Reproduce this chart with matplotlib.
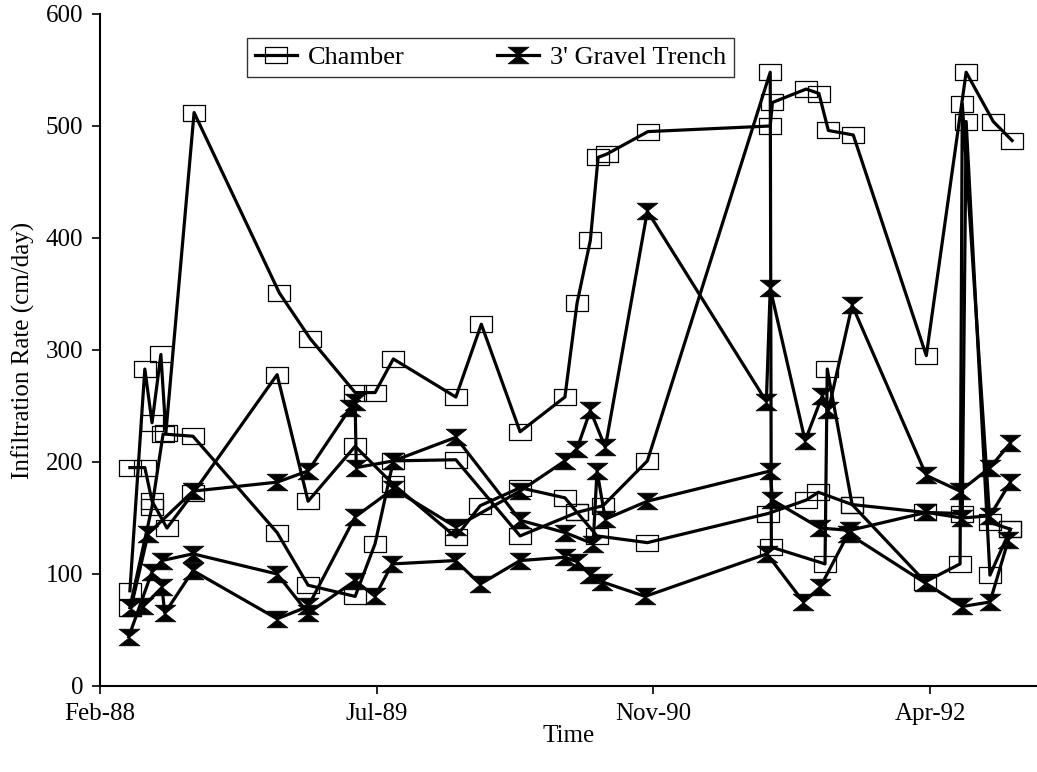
import matplotlib
matplotlib.use("Agg")
import matplotlib.pyplot as plt
from matplotlib.path import Path
import numpy as np

plt.rcParams['font.family'] = ['Liberation Serif', 'DejaVu Serif']

# x values: days since the first axis tick (Feb-88)
chamber_a_x = [54, 81, 94, 110, 119, 170, 324, 380, 461, 497, 530, 643, 689, 759, 840, 862, 886, 900, 916, 990, 1211, 1215, 1276, 1299, 1316, 1361, 1493, 1565, 1614, 1648]
chamber_a_y = [85, 283, 235, 296, 226, 512, 351, 310, 262, 262, 292, 258, 323, 227, 258, 342, 398, 472, 475, 495, 500, 521, 533, 529, 496, 492, 295, 548, 504, 487]

chamber_b_x = [54, 81, 94, 121, 168, 320, 376, 461, 530, 643, 687, 759, 840, 862, 909, 989, 1211, 1213, 1310, 1314, 1359, 1491, 1554, 1558, 1608, 1645]
chamber_b_y = [195, 195, 165, 141, 172, 278, 165, 214, 180, 133, 161, 177, 168, 155, 161, 201, 548, 124, 109, 283, 162, 93, 109, 520, 146, 140]

chamber_c_x = [54, 94, 114, 168, 320, 376, 461, 497, 530, 643, 759, 862, 898, 989, 1207, 1276, 1298, 1359, 1491, 1558, 1565, 1608, 1645]
chamber_c_y = [70, 160, 225, 223, 137, 90, 80, 127, 201, 202, 134, 155, 134, 128, 154, 166, 173, 162, 155, 154, 504, 99, 140]

trench_a_x = [56, 87, 168, 320, 376, 452, 461, 463, 530, 643, 759, 840, 891, 898, 913, 989, 1211, 1215, 1301, 1355, 1493, 1558, 1608, 1645]
trench_a_y = [70, 136, 174, 182, 192, 248, 254, 195, 201, 222, 148, 137, 127, 192, 149, 165, 192, 166, 141, 139, 155, 150, 152, 182]

trench_b_x = [52, 94, 112, 168, 320, 376, 461, 497, 528, 642, 687, 759, 840, 862, 886, 907, 985, 1205, 1271, 1301, 1352, 1491, 1558, 1608, 1641]
trench_b_y = [44, 102, 112, 118, 100, 65, 94, 80, 109, 112, 91, 112, 115, 111, 99, 93, 80, 118, 75, 88, 136, 92, 71, 75, 130]

trench_c_x = [78, 112, 117, 168, 320, 376, 461, 530, 643, 759, 840, 862, 886, 913, 989, 1204, 1211, 1274, 1305, 1316, 1359, 1493, 1554, 1608, 1645]
trench_c_y = [71, 88, 65, 103, 60, 71, 151, 176, 142, 174, 201, 212, 246, 213, 424, 254, 355, 219, 259, 246, 340, 188, 174, 195, 217]

x_ticks = [0, 500, 1000, 1500]
x_tick_labels = ['Feb-88', 'Jul-89', 'Nov-90', 'Apr-92']
y_ticks = [0, 100, 200, 300, 400, 500, 600]
series_labels = ['Chamber', "3' Gravel Trench"]

# marker shapes
rect = Path([(-1, -0.74), (1, -0.74), (1, 0.74), (-1, 0.74), (-1, -0.74)],
            [Path.MOVETO, Path.LINETO, Path.LINETO, Path.LINETO, Path.CLOSEPOLY])
hour = Path([(-1, 0.8), (1, 0.8), (0, 0), (-1, 0.8),
             (-1, -0.8), (1, -0.8), (0, 0), (-1, -0.8)],
            [Path.MOVETO, Path.LINETO, Path.LINETO, Path.CLOSEPOLY,
             Path.MOVETO, Path.LINETO, Path.LINETO, Path.CLOSEPOLY])

fig = plt.figure(figsize=(10.37, 7.72), dpi=100)
ax = fig.add_axes([100/1037, 86/772, 937/1037, 672/772])

ch_style = dict(color='black', lw=2.3, marker=rect, markersize=16, mfc='none',
                mec='black', mew=0.9)
tr_style = dict(color='black', lw=2.3, marker=hour, markersize=15, mfc='black',
                mec='black', mew=0.5)

for i, (xs, ys) in enumerate([(chamber_a_x, chamber_a_y), (chamber_b_x, chamber_b_y),
                              (chamber_c_x, chamber_c_y)]):
    ax.plot(xs, ys, label=series_labels[0] if i == 0 else None, **ch_style)
for i, (xs, ys) in enumerate([(trench_a_x, trench_a_y), (trench_b_x, trench_b_y),
                              (trench_c_x, trench_c_y)]):
    ax.plot(xs, ys, label=series_labels[1] if i == 0 else None, **tr_style)

ax.set_xlim(0, 1693)
ax.set_ylim(0, 600)
ax.set_xticks(x_ticks)
ax.set_xticklabels(x_tick_labels)
ax.set_yticks(y_ticks)
ax.tick_params(direction='out', length=6, width=1.2, labelsize=18, pad=6)
for s in ['top', 'right']:
    ax.spines[s].set_visible(False)
for s in ['left', 'bottom']:
    ax.spines[s].set_linewidth(1.5)

ax.set_xlabel('Time', fontsize=18, labelpad=0)
ax.set_ylabel('Infiltration Rate (cm/day)', fontsize=18, labelpad=8)

leg = ax.legend(loc='upper left', bbox_to_anchor=(0.157, 0.965), ncol=2,
                fontsize=19, frameon=True, fancybox=False, edgecolor='black',
                handlelength=1.6, columnspacing=3.5, handletextpad=0.4,
                borderpad=0.3, borderaxespad=0)
leg.get_frame().set_linewidth(1.0)

fig.savefig('out.png', dpi=100)
